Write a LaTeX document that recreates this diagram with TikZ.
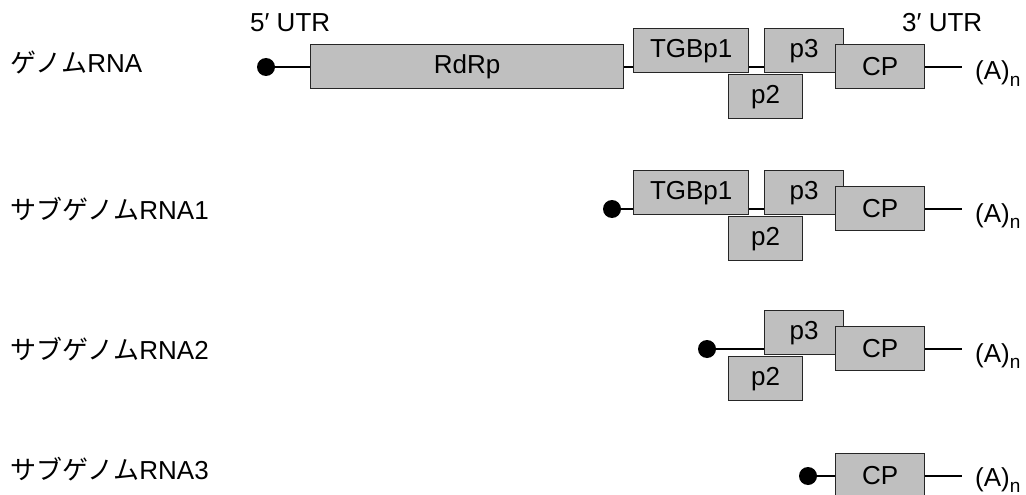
\documentclass[tikz,border=0pt]{standalone}
\usepackage{fontspec}
\setmainfont{Liberation Sans}
\newfontfamily\jpfont{Noto Sans CJK JP}
\newcommand{\polyA}{(A)\raisebox{-6pt}{\fontsize{19}{19}\selectfont n}}
\begin{document}
\begin{tikzpicture}[x=1pt,y=-1pt,
  every node/.style={font=\fontsize{26}{30}\selectfont},
  gene/.style={draw=black!85, line width=1.4pt, fill=black!25, minimum height=44pt,
    inner sep=0pt, anchor=north west},
  cap5/.style={circle, fill=black, inner sep=0pt, minimum size=18pt},
  rna/.style={line width=1.3pt},
  rowlabel/.style={anchor=base west, inner sep=0pt},
  polya/.style={anchor=base west, inner sep=0pt}]
\useasboundingbox (0,0) rectangle (1026,495);

% row labels
\node[rowlabel] (l1) at (10,73) {{\jpfont ゲノム}RNA};
\node[rowlabel] (l2) at (10,219) {{\jpfont サブゲノム}RNA1};
\node[rowlabel] (l3) at (10,359) {{\jpfont サブゲノム}RNA2};
\node[rowlabel] (l4) at (10,479) {{\jpfont サブゲノム}RNA3};

% UTR labels
\node[rowlabel] (utr5) at (250,32) {5′ UTR};
\node[rowlabel] (utr3) at (902,32) {3′ UTR};

% genomic RNA
\coordinate (s1) at (266,67);
\coordinate (e1) at (962,67);
\draw[rna] (s1) -- (e1);
\node[gene, minimum width=313pt] (rdrp) at (310,44) {RdRp};
\node[gene, minimum width=115pt] (tgb1a) at (633,28) {TGBp1};
\node[gene, minimum width=79pt] (p3a) at (764,28) {p3};
\node[gene, minimum width=74pt] (p2a) at (728,74) {p2};
\node[gene, minimum width=89pt] (cpa) at (835,44) {CP};
\node[cap5] (d1) at (s1) {};
\node[polya] (a1) at (975,80) {\polyA};

% subgenomic RNA1
\coordinate (s2) at (612,209);
\coordinate (e2) at (962,209);
\draw[rna] (s2) -- (e2);
\node[gene, minimum width=115pt] (tgb1b) at (633,170) {TGBp1};
\node[gene, minimum width=79pt] (p3b) at (764,170) {p3};
\node[gene, minimum width=74pt] (p2b) at (728,216) {p2};
\node[gene, minimum width=89pt] (cpb) at (835,186) {CP};
\node[cap5] (d2) at (s2) {};
\node[polya] (a2) at (975,222) {\polyA};

% subgenomic RNA2
\coordinate (s3) at (707,349);
\coordinate (e3) at (962,349);
\draw[rna] (s3) -- (e3);
\node[gene, minimum width=79pt] (p3c) at (764,310) {p3};
\node[gene, minimum width=74pt] (p2c) at (728,356) {p2};
\node[gene, minimum width=89pt] (cpc) at (835,326) {CP};
\node[cap5] (d3) at (s3) {};
\node[polya] (a3) at (975,362) {\polyA};

% subgenomic RNA3
\coordinate (s4) at (808,476);
\coordinate (e4) at (962,476);
\draw[rna] (s4) -- (e4);
\node[gene, minimum width=89pt] (cpd) at (835,453) {CP};
\node[cap5] (d4) at (s4) {};
\node[polya] (a4) at (975,486) {\polyA};
\end{tikzpicture}
\end{document}
